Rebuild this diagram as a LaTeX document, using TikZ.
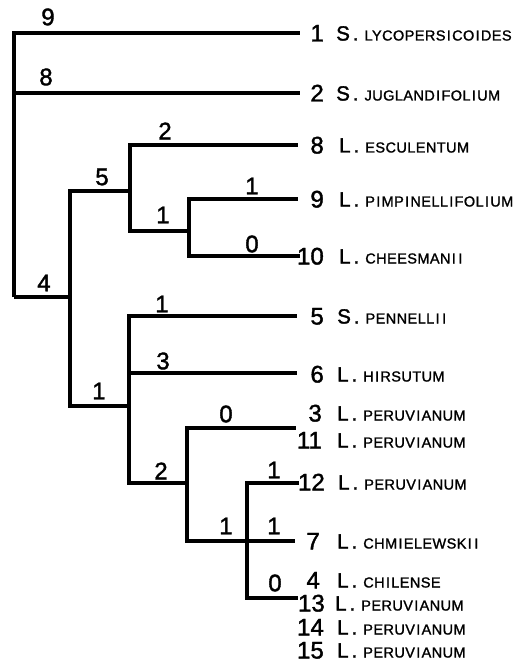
\documentclass[tikz,border=0pt]{standalone}
\usepackage{fontspec}
\setmainfont{Liberation Sans}
\newfontfamily\lett{Liberation Sans}[FakeBold=1.6]
\newfontfamily\lettsc{Liberation Sans}[FakeBold=1.4, LetterSpace=3]
\newcommand\wI{\kern1.3pt I\kern1.3pt}
\newcommand\spname[2]{{\lett\fontsize{20.5}{20}\selectfont #1\kern3pt.}\kern6pt{\lettsc\fontsize{14.5}{14}\selectfont #2}}
\begin{document}
\begin{tikzpicture}[x=1pt,y=-1pt,
  br/.style={line width=3.2pt, line join=miter},
  lab/.style={font=\lett\fontsize{24}{24}\selectfont, inner sep=0pt, anchor=center},
  num/.style={font=\lett\fontsize{24}{24}\selectfont, inner sep=0pt, anchor=base east},
  nm/.style={inner sep=0pt, anchor=base west}]
\useasboundingbox (0,0) rectangle (524,663);
% inner nodes
\coordinate (root) at (14,297);
\coordinate (n4) at (70,297);
\coordinate (n5) at (130,191);
\coordinate (n1a) at (189,231);
\coordinate (n1b) at (129,406);
\coordinate (n2) at (187,483);
\coordinate (n1c) at (247,541);
% leaf ends
\coordinate (e1) at (300,33);
\coordinate (e2) at (300,93);
\coordinate (e8) at (298,145);
\coordinate (e9) at (298,199);
\coordinate (e10) at (300,256);
\coordinate (e5) at (297,316);
\coordinate (e6) at (297,373);
\coordinate (e3) at (296,428);
\coordinate (e12) at (299,483);
\coordinate (e7) at (295,541);
\coordinate (e13) at (298,598);
% branches
\draw[br] (root) |- (e1);
\draw[br] (root) |- (e2);
\draw[br] (root) -- (n4);
\draw[br] (n4) |- (n5);
\draw[br] (n4) |- (n1b);
\draw[br] (n5) |- (e8);
\draw[br] (n5) |- (n1a);
\draw[br] (n1a) |- (e9);
\draw[br] (n1a) |- (e10);
\draw[br] (n1b) |- (e5);
\draw[br] (n1b) |- (e6);
\draw[br] (n1b) |- (n2);
\draw[br] (n2) |- (e3);
\draw[br] (n2) |- (n1c);
\draw[br] (n1c) |- (e12);
\draw[br] (n1c) -- (e7);
\draw[br] (n1c) |- (e13);
% branch labels
\node[lab] (b1) at (48,17) {9};
\node[lab] (b2) at (46,77) {8};
\node[lab] (b3) at (44,283) {4};
\node[lab] (b4) at (102,177) {5};
\node[lab] (b5) at (165,131) {2};
\node[lab] (b6) at (163,215) {1};
\node[lab] (b7) at (252,186) {1};
\node[lab] (b8) at (252,244) {0};
\node[lab] (b9) at (99,391) {1};
\node[lab] (b10) at (162,304) {1};
\node[lab] (b11) at (163,361) {3};
\node[lab] (b12) at (226,414) {0};
\node[lab] (b13) at (161,471) {2};
\node[lab] (b14) at (226,526) {1};
\node[lab] (b15) at (274,470) {1};
\node[lab] (b16) at (274,526) {1};
\node[lab] (b17) at (275,583) {0};
% leaf numbers
\node[num] (m1) at (324,41.5) {1};
\node[num] (m2) at (324,101.5) {2};
\node[num] (m8) at (324,153.5) {8};
\node[num] (m9) at (324,207.5) {9};
\node[num] (m10) at (324,264.5) {10};
\node[num] (m5) at (324,324.5) {5};
\node[num] (m6) at (324,382.5) {6};
\node[num] (m3) at (322,421.5) {3};
\node[num] (m11) at (322,448.5) {11};
\node[num] (m12) at (325,490.5) {12};
\node[num] (m7) at (320,549.5) {7};
\node[num] (m4) at (320,588.5) {4};
\node[num] (m13) at (325,611.5) {13};
\node[num] (m14) at (324,635.5) {14};
\node[num] (m15) at (324,658.5) {15};
% names
\node[nm] (t1) at (336,40.5) {\spname{S}{LYCOPERS\wI CO\wI DES}};
\node[nm] (t2) at (336,100.5) {\spname{S}{JUGLAND\wI FOL\wI UM}};
\node[nm] (t8) at (339,152.5) {\spname{L}{ESCULENTUM}};
\node[nm] (t9) at (339,206.5) {\spname{L}{P\wI MP\wI NELL\wI FOL\wI UM}};
\node[nm] (t10) at (339,263.5) {\spname{L}{CHEESMAN\wI\wI}};
\node[nm] (t5) at (337,323.5) {\spname{S}{PENNELL\wI\wI}};
\node[nm] (t6) at (337,381.5) {\spname{L}{H\wI RSUTUM}};
\node[nm] (t3) at (337,420.5) {\spname{L}{PERUV\wI ANUM}};
\node[nm] (t11) at (337,447.5) {\spname{L}{PERUV\wI ANUM}};
\node[nm] (t12) at (338,489.5) {\spname{L}{PERUV\wI ANUM}};
\node[nm] (t7) at (337,548.5) {\spname{L}{CHM\wI ELEWSK\wI\wI}};
\node[nm] (t4) at (337,587.5) {\spname{L}{CH\wI LENSE}};
\node[nm] (t13) at (335,610.5) {\spname{L}{PERUV\wI ANUM}};
\node[nm] (t14) at (337,634.5) {\spname{L}{PERUV\wI ANUM}};
\node[nm] (t15) at (337,657.5) {\spname{L}{PERUV\wI ANUM}};
\end{tikzpicture}
\end{document}
